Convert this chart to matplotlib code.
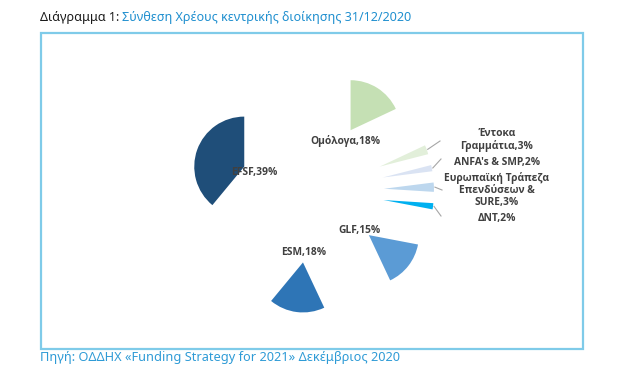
import numpy as np
import matplotlib.pyplot as plt
from matplotlib.patches import Rectangle

plt.rcParams['font.family'] = ['Noto Sans', 'DejaVu Sans']

# data: central government debt composition 31/12/2020 (%)
labels = ['Ομόλογα', 'Έντοκα\nΓραμμάτια', "ANFA's & SMP",
          'Ευρωπαϊκή Τράπεζα\nΕπενδύσεων &\nSURE', 'ΔΝΤ', 'GLF', 'ESM', 'EFSF']
shares = [18, 3, 2, 3, 2, 15, 18, 39]
colors = ['#c5e0b4', '#e2efda', '#dae3f3', '#bdd7ee', '#00b0f0',
          '#5b9bd5', '#2e75b6', '#1f4e79']

W, H = 644, 378
fig = plt.figure(figsize=(W / 100, H / 100), dpi=100)
ax = fig.add_axes([0, 0, 1, 1])


def py(y):
    # pixel row (from top) -> data y
    return H - y


# heavily exploded pie
radius = 50
wedges, _ = ax.pie(shares, colors=colors, startangle=90, counterclock=False,
                   radius=radius, center=(312, py(191)),
                   explode=[72] * len(shares), frame=True)
ax.set_xlim(0, W)
ax.set_ylim(0, H)
ax.set_aspect('equal')
ax.axis('off')

# frame around the chart
ax.add_patch(Rectangle((41, py(349)), 542, 316, fill=False,
                       edgecolor='#7fcbe9', linewidth=1.6))

# title: black prefix, blue rest
t1 = ax.text(40, py(18), 'Διάγραμμα 1: ', fontsize=9.05, color='#1a1a1a',
             ha='left', va='center')
ax.annotate('Σύνθεση Χρέους κεντρικής διοίκησης 31/12/2020', xy=(1, 0.5),
            xycoords=t1, fontsize=9.05, color='#1f8fcf', ha='left', va='center')

ax.text(40, py(358), 'Πηγή: ΟΔΔΗΧ «Funding Strategy for 2021» Δεκέμβριος 2020',
        fontsize=9.2, color='#2e9bd6', ha='left', va='center')

# label positions (pixel coordinates, centre of text)
label_pos = [(345, 141), (497, 140), (497, 162), (497, 190), (497, 218),
             (360, 230), (304, 253), (254, 172)]
for lab, val, (lx, ly) in zip(labels, shares, label_pos):
    ax.text(lx, py(ly), f'{lab},{val}%', fontsize=7.4, fontweight='bold',
            family=['Open Sans', 'DejaVu Sans'],
            color='#404040', ha='center', va='center', linespacing=1.12)

# leader lines for the thin slices
line_ends = {1: (440, 141), 2: (441, 159), 3: (442, 190), 4: (441, 216)}
for i, (ex, ey) in line_ends.items():
    w = wedges[i]
    th = np.deg2rad((w.theta1 + w.theta2) / 2)
    cx, cy = w.center
    sx, sy = cx + (w.r + 1) * np.cos(th), cy + (w.r + 1) * np.sin(th)
    ax.plot([sx, ex], [sy, py(ey)], color='#a6a6a6', linewidth=0.8)

fig.savefig('out.png', dpi=100)
